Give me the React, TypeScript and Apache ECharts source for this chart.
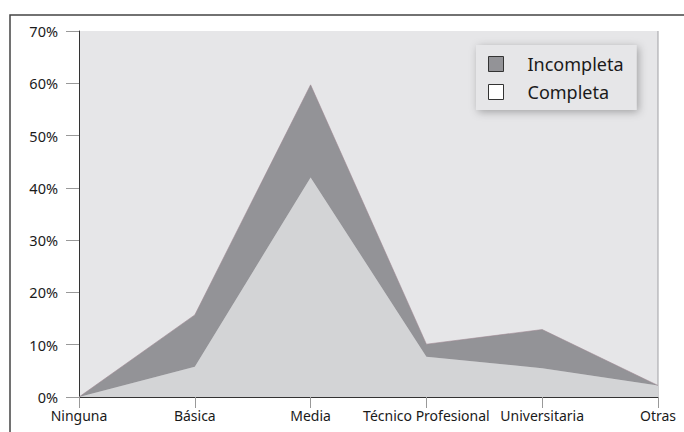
import React, { useEffect, useRef } from "react";
import * as echarts from "echarts";

const categories = ["Ninguna", "Básica", "Media", "Técnico Profesional", "Universitaria", "Otras"];
const completa = [0, 5.8, 42, 7.7, 5.5, 2.2];
const incompleta = [0, 9.9, 17.7, 2.4, 7.4, 0];
const yTicks = { min: 0, max: 70, interval: 10 };

export default function App() {
  const ref = useRef<HTMLDivElement>(null);
  useEffect(() => {
    if (!ref.current) return;
    const chart = echarts.init(ref.current, null, { renderer: "svg" });
    const font = "Noto Sans";
    chart.setOption({
      animation: false,
      backgroundColor: "#ffffff",
      textStyle: { fontFamily: font },
      grid: {
        left: 79,
        right: 26,
        top: 31,
        bottom: 35,
        show: true,
        backgroundColor: "#e6e6e8",
        borderWidth: 0,
      },
      legend: {
        orient: "vertical",
        left: 476,
        top: 45,
        padding: [10, 13, 9, 12],
        backgroundColor: "#e6e6e8",
        shadowBlur: 8,
        shadowColor: "rgba(0,0,0,0.3)",
        shadowOffsetX: 2,
        shadowOffsetY: 2,
        itemWidth: 15,
        itemHeight: 15,
        itemGap: 10,
        textStyle: { fontFamily: font, fontSize: 18, color: "#1a1a1a", padding: [0, 0, 0, 19] },
        data: [
          { name: "Incompleta", icon: "rect", itemStyle: { color: "#939397", borderColor: "#333", borderWidth: 1 } },
          { name: "Completa", icon: "rect", itemStyle: { color: "#ffffff", borderColor: "#333", borderWidth: 1 } },
        ],
      },
      xAxis: {
        type: "category",
        data: categories,
        boundaryGap: false,
        axisLine: { lineStyle: { color: "#333", width: 1 } },
        axisTick: { show: true, length: 11, lineStyle: { color: "#999" } },
        axisLabel: {
          fontFamily: font,
          fontSize: 14,
          color: "#1a1a1a",
          margin: 11,
          interval: 0,
        },
        splitLine: { show: false },
      },
      yAxis: {
        type: "value",
        min: yTicks.min,
        max: yTicks.max,
        interval: yTicks.interval,
        axisLine: { show: true, lineStyle: { color: "#333", width: 1 } },
        axisTick: { show: true, length: 13, lineStyle: { color: "#999" } },
        axisLabel: {
          formatter: "{value}%",
          fontFamily: font,
          fontSize: 14.5,
          color: "#1a1a1a",
          margin: 21,
        },
        splitLine: { show: false },
      },
      graphic: [
        {
          type: "rect",
          shape: { x: 10, y: 15, width: 700, height: 440 },
          style: { fill: "none", stroke: "#444", lineWidth: 1.5 },
          silent: true,
        },
        {
          type: "line",
          shape: { x1: 658, y1: 31, x2: 658, y2: 397 },
          style: { stroke: "#a0a0a4", lineWidth: 1 },
          silent: true,
        },
      ],
      series: [
        {
          name: "Completa",
          type: "line",
          stack: "total",
          data: completa,
          showSymbol: false,
          symbol: "none",
          lineStyle: { width: 0 },
          itemStyle: { color: "#d3d4d6" },
          areaStyle: { color: "#d3d4d6", opacity: 1 },
          z: 2,
        },
        {
          name: "Incompleta",
          type: "line",
          stack: "total",
          data: incompleta,
          showSymbol: false,
          symbol: "none",
          lineStyle: { width: 0.6, color: "#a08a94" },
          itemStyle: { color: "#939397" },
          areaStyle: { color: "#939397", opacity: 1 },
          z: 2,
        },
      ],
    });
    return () => chart.dispose();
  }, []);
  return (
    <div
      ref={ref}
      style={{ position: "fixed", left: 0, top: 0, width: 684, height: 432 }}
    />
  );
}
